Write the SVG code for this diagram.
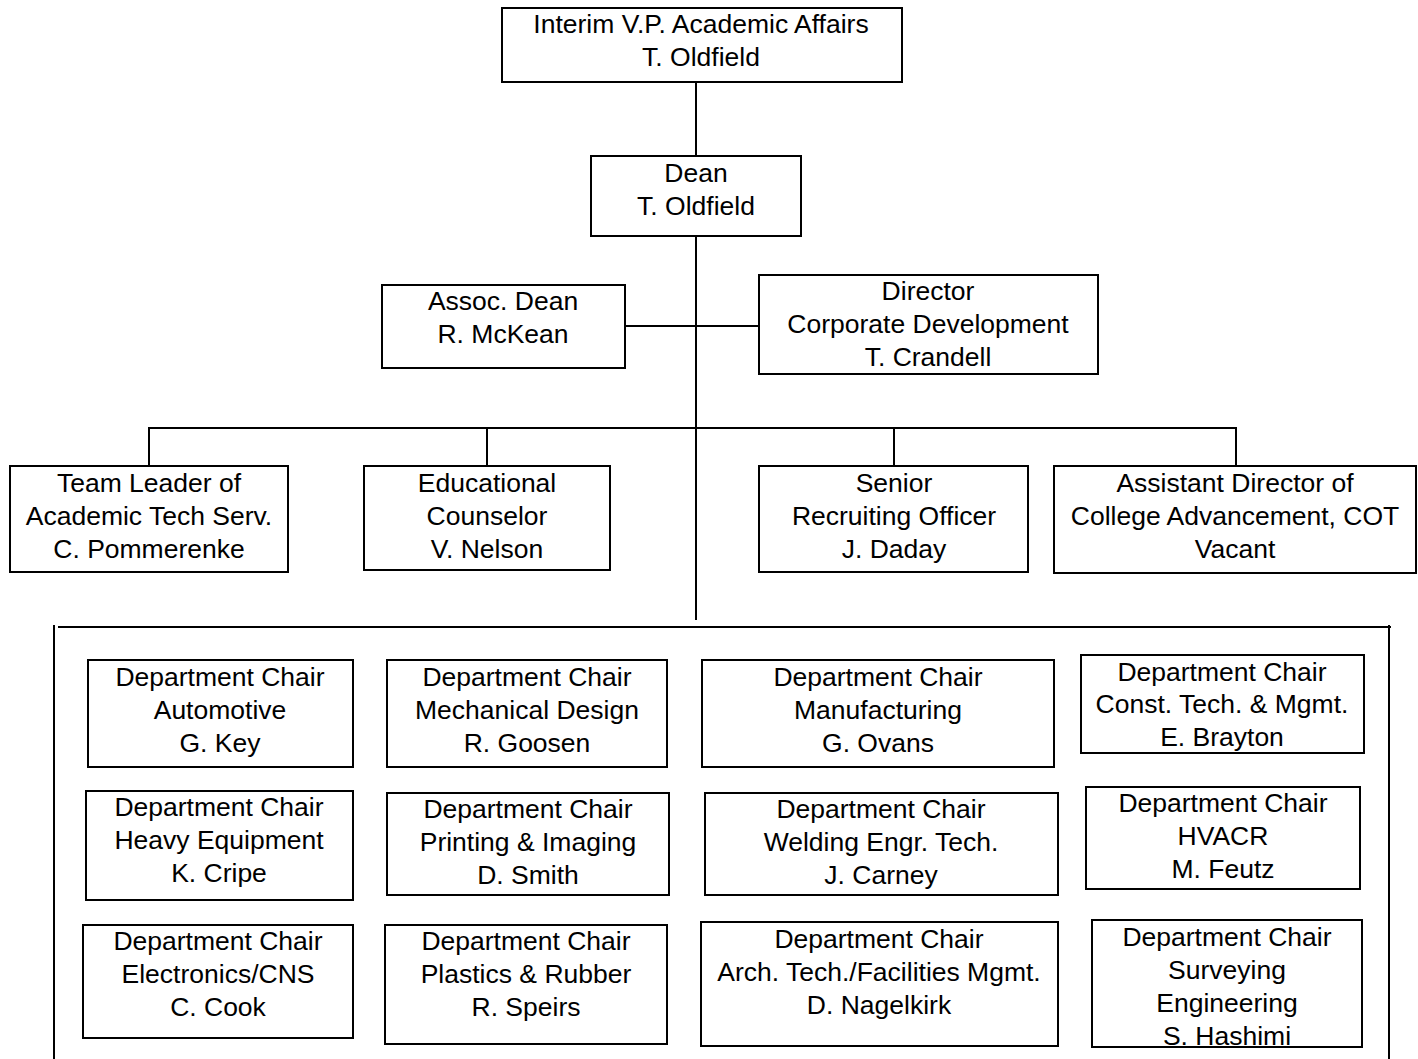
<svg xmlns="http://www.w3.org/2000/svg" width="1418" height="1059" viewBox="0 0 1418 1059">
<style>
rect{fill:#fff;stroke:#000;stroke-width:2}
text{font-family:"Liberation Sans",Arial,sans-serif;font-size:26.5px;fill:#000;text-anchor:middle}
#connectors line{stroke:#000;stroke-width:2}
</style>
<rect x="0" y="0" width="1418" height="1059" style="stroke:none"/>
<g id="connectors">
<line x1="696" y1="83" x2="696" y2="156"/>
<line x1="696" y1="236" x2="696" y2="620"/>
<line x1="625" y1="326" x2="759" y2="326"/>
<line x1="149" y1="428" x2="1237" y2="428"/>
<line x1="149" y1="427" x2="149" y2="466"/>
<line x1="487" y1="427" x2="487" y2="466"/>
<line x1="894" y1="427" x2="894" y2="466"/>
<line x1="1236" y1="427" x2="1236" y2="466"/>
<line x1="54" y1="625" x2="54" y2="1059"/>
<line x1="58" y1="627" x2="1391" y2="627"/>
<line x1="1389" y1="625" x2="1389" y2="1059"/>
</g>
<g id="vp"><rect x="502" y="8" width="400" height="74"/><text x="701" y="33">Interim V.P. Academic Affairs</text><text x="701" y="66">T. Oldfield</text></g>
<g id="dean"><rect x="591" y="156" width="210" height="80"/><text x="696" y="182">Dean</text><text x="696" y="215">T. Oldfield</text></g>
<g id="assoc-dean"><rect x="382" y="285" width="243" height="83"/><text x="503" y="310">Assoc. Dean</text><text x="503" y="343">R. McKean</text></g>
<g id="director"><rect x="759" y="275" width="339" height="99"/><text x="928" y="300">Director</text><text x="928" y="333">Corporate Development</text><text x="928" y="366">T. Crandell</text></g>
<g id="team-leader"><rect x="10" y="466" width="278" height="106"/><text x="149" y="492">Team Leader of</text><text x="149" y="525">Academic Tech Serv.</text><text x="149" y="558">C. Pommerenke</text></g>
<g id="counselor"><rect x="364" y="466" width="246" height="104"/><text x="487" y="492">Educational</text><text x="487" y="525">Counselor</text><text x="487" y="558">V. Nelson</text></g>
<g id="recruiting"><rect x="759" y="466" width="269" height="106"/><text x="894" y="492">Senior</text><text x="894" y="525">Recruiting Officer</text><text x="894" y="558">J. Daday</text></g>
<g id="asst-director"><rect x="1054" y="466" width="362" height="107"/><text x="1235" y="492">Assistant Director of</text><text x="1235" y="525">College Advancement, COT</text><text x="1235" y="558">Vacant</text></g>
<g id="automotive"><rect x="88" y="660" width="265" height="107"/><text x="220" y="686">Department Chair</text><text x="220" y="719">Automotive</text><text x="220" y="752">G. Key</text></g>
<g id="mech-design"><rect x="387" y="660" width="280" height="107"/><text x="527" y="686">Department Chair</text><text x="527" y="719">Mechanical Design</text><text x="527" y="752">R. Goosen</text></g>
<g id="manufacturing"><rect x="702" y="660" width="352" height="107"/><text x="878" y="686">Department Chair</text><text x="878" y="719">Manufacturing</text><text x="878" y="752">G. Ovans</text></g>
<g id="const-tech"><rect x="1081" y="655" width="283" height="98"/><text x="1222" y="681">Department Chair</text><text x="1222" y="713">Const. Tech. &amp; Mgmt.</text><text x="1222" y="746">E. Brayton</text></g>
<g id="heavy-equipment"><rect x="86" y="791" width="267" height="109"/><text x="219" y="816">Department Chair</text><text x="219" y="849">Heavy Equipment</text><text x="219" y="882">K. Cripe</text></g>
<g id="printing"><rect x="387" y="793" width="282" height="102"/><text x="528" y="818">Department Chair</text><text x="528" y="851">Printing &amp; Imaging</text><text x="528" y="884">D. Smith</text></g>
<g id="welding"><rect x="705" y="793" width="353" height="102"/><text x="881" y="818">Department Chair</text><text x="881" y="851">Welding Engr. Tech.</text><text x="881" y="884">J. Carney</text></g>
<g id="hvacr"><rect x="1086" y="787" width="274" height="102"/><text x="1223" y="812">Department Chair</text><text x="1223" y="845">HVACR</text><text x="1223" y="878">M. Feutz</text></g>
<g id="electronics"><rect x="83" y="925" width="270" height="113"/><text x="218" y="950">Department Chair</text><text x="218" y="983">Electronics/CNS</text><text x="218" y="1016">C. Cook</text></g>
<g id="plastics"><rect x="385" y="925" width="282" height="119"/><text x="526" y="950">Department Chair</text><text x="526" y="983">Plastics &amp; Rubber</text><text x="526" y="1016">R. Speirs</text></g>
<g id="arch-tech"><rect x="701" y="922" width="357" height="124"/><text x="879" y="948">Department Chair</text><text x="879" y="981">Arch. Tech./Facilities Mgmt.</text><text x="879" y="1014">D. Nagelkirk</text></g>
<g id="surveying"><rect x="1092" y="920" width="270" height="127"/><text x="1227" y="946">Department Chair</text><text x="1227" y="979">Surveying</text><text x="1227" y="1012">Engineering</text><text x="1227" y="1045">S. Hashimi</text></g>
</svg>
